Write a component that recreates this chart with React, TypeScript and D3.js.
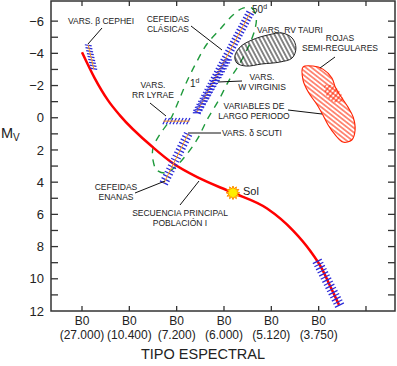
import React from "react";
import * as d3 from "d3";

const W = 397;
const H = 366;
const FONT = "Liberation Sans, Arial, sans-serif";

// spectral axis: tick index + labels (as printed on the figure)
const spectralTicks = [0, 1, 2, 3, 4, 5, 6];
const spectralClass = ["B0", "B0", "B0", "B0", "B0", "B0"];
const temperatures = ["(27.000)", "(10.400)", "(7.200)", "(6.000)", "(5.120)", "(3.750)"];
const mvTicks = d3.range(-6, 12);
const mvLabels = [-6, -4, -2, 0, 2, 4, 6, 8, 10, 12];

// [spectral index, Mv]
const mainSequence: [number, number][] = [
    [0.0, -4.07], [0.27, -2.45], [0.55, -1.08], [0.8, -0.15],
    [1.5, 1.84], [1.92, 2.83], [2.49, 3.77], [3.17, 4.64], [3.91, 5.64],
    [4.46, 7.01], [4.82, 8.26], [5.07, 9.38], [5.26, 10.56], [5.43, 11.62]
];
const sun: [number, number] = [3.19, 4.66];

const instabilityStrip: [number, number][] = [
    [3.4, -6.81], [3.59, -6.81], [3.68, -6.25], [3.66, -5.57], [3.55, -4.64],
    [3.34, -3.4], [3.11, -2.34], [2.89, -1.1], [2.64, 0.14], [2.45, 1.26],
    [2.2, 2.32], [1.99, 3.0], [1.77, 3.43], [1.58, 3.25], [1.5, 2.63],
    [1.5, 1.88], [1.65, 1.01], [1.86, 0.14], [2.05, -1.1], [2.22, -2.28],
    [2.41, -3.4], [2.64, -4.58], [2.92, -5.51], [3.19, -6.38]
];

const rvTauri: [number, number][] = [
    [3.23, -3.83], [3.34, -4.39], [3.59, -4.83], [3.93, -5.14], [4.23, -5.26],
    [4.44, -4.95], [4.52, -4.33], [4.44, -3.71], [4.18, -3.46], [3.8, -3.34],
    [3.47, -3.21], [3.27, -3.4]
];

const redVariables: [number, number][] = [
    [4.67, -3.15], [4.88, -3.21], [5.09, -3.02], [5.28, -2.47], [5.35, -1.91],
    [5.45, -1.41], [5.62, -0.66], [5.73, -0.04], [5.77, 0.76], [5.7, 1.38],
    [5.51, 1.51], [5.35, 1.07], [5.2, 0.45], [5.09, -0.17], [4.97, -0.79],
    [4.78, -1.6], [4.67, -2.34]
];
const redOverlap: [number, number][] = [
    [5.13, -2.02], [5.36, -1.9], [5.52, -1.1], [5.35, -0.95], [5.15, -1.45]
];

// hatched bands: [start, end]
const betaCephei: [number, number][] = [[0.13, -4.52], [0.25, -3.02]];
const classicalCepheids: [number, number][] = [[2.43, -0.35], [3.55, -6.5]];
const wVirginis: [number, number][] = [[2.36, -0.3], [3.02, -3.6]];
const deltaScuti: [number, number][] = [[1.73, 4.06], [2.24, 1.02]];
const rrLyrae: [number, number][] = [[1.72, 0.21], [2.27, 0.21]];
const flareStars: [number, number][] = [[4.96, 8.85], [5.45, 11.7]];

const x = d3.scaleLinear([-0.655, 6.613], [51, 395]);
const y = d3.scaleLinear([-7.25, 12], [1, 311]);

const BLUE = "#2a2ad8";
const ORANGE = "#ff9a1a";

interface IBandProps {
    ends: [number, number][];
    spacing: number;
    len: number;
    angle?: number;   // fixed screen angle in degrees, otherwise perpendicular
    shift?: number;   // shift hatch centre along hatch direction
    axis?: boolean;
}

function Band({ ends, spacing, len, angle, shift = 0, axis = true }: IBandProps) {
    const ax = x(ends[0][0]), ay = y(ends[0][1]);
    const bx = x(ends[1][0]), by = y(ends[1][1]);
    const d = Math.hypot(bx - ax, by - ay);
    const ux = (bx - ax) / d, uy = (by - ay) / d;
    let hx = -uy, hy = ux;
    if (angle !== undefined) {
        hx = Math.cos(angle * Math.PI / 180);
        hy = -Math.sin(angle * Math.PI / 180);
    }
    const n = Math.floor(d / spacing);
    const hatches = d3.range(n + 1).map(i => {
        const t = (d - n * spacing) / 2 + i * spacing;
        const cx = ax + ux * t + hx * shift, cy = ay + uy * t + hy * shift;
        return <line key={i} x1={cx - hx * len / 2} y1={cy - hy * len / 2}
            x2={cx + hx * len / 2} y2={cy + hy * len / 2}
            stroke={BLUE} strokeWidth={1.25} />;
    });
    return <g>
        {hatches}
        {axis && <line x1={ax} y1={ay} x2={bx} y2={by} stroke={ORANGE} strokeWidth={1} />}
    </g>;
}

function Label({ lines, cx, cy, size = 8.5, anchor = "middle" }: { lines: string[]; cx: number; cy: number; size?: number; anchor?: string }) {
    return <text x={cx} y={cy} fontSize={size} fontFamily={FONT} fill="#222" textAnchor={anchor as any}>
        {lines.map((l, i) => <tspan key={i} x={cx} dy={i === 0 ? 0 : size * 1.12}>{l}</tspan>)}
    </text>;
}

export default function App() {
    const closedLine = d3.line<[number, number]>()
        .x(d => x(d[0])).y(d => y(d[1]))
        .curve(d3.curveCatmullRomClosed.alpha(0.5));
    const msLine = d3.line<[number, number]>()
        .x(d => x(d[0])).y(d => y(d[1]))
        .curve(d3.curveMonotoneX);

    const sx = x(sun[0]), sy = y(sun[1]);
    const starPts = d3.range(24).map(i => {
        const r = i % 2 === 0 ? 6.8 : 4.2;
        const a = i * Math.PI / 12;
        return [sx + r * Math.cos(a), sy + r * Math.sin(a)];
    });

    const left = x.range()[0], right = x.range()[1];
    const top = y.range()[0], bottom = y.range()[1];

    return <svg width={W} height={H} style={{ position: "absolute", left: 0, top: 0, background: "#fff" }}>
        <defs>
            <pattern id="redHatch" width={3.6} height={3.6} patternUnits="userSpaceOnUse" patternTransform="rotate(38)">
                <line x1={0} y1={1.8} x2={3.6} y2={1.8} stroke="#ff2200" strokeWidth={1} />
            </pattern>
            <pattern id="redCross" width={3.6} height={3.6} patternUnits="userSpaceOnUse" patternTransform="rotate(-50)">
                <line x1={0} y1={1.8} x2={3.6} y2={1.8} stroke="#ff2200" strokeWidth={1} />
            </pattern>
            <pattern id="blackHatch" width={3.8} height={3.8} patternUnits="userSpaceOnUse" patternTransform="rotate(62)">
                <line x1={0} y1={1.9} x2={3.8} y2={1.9} stroke="#111" strokeWidth={1} />
            </pattern>
        </defs>

        {/* frame */}
        <rect x={left} y={top} width={right - left} height={bottom - top} fill="none" stroke="#333" strokeWidth={1.5} />

        <g name="yTicks">
            {mvTicks.map(t => <g key={t}>
                <line x1={left} x2={left + 7} y1={y(t)} y2={y(t)} stroke="#333" strokeWidth={1.3} />
                <line x1={right - 7} x2={right} y1={y(t)} y2={y(t)} stroke="#333" strokeWidth={1.3} />
            </g>)}
            {mvLabels.map(t => <text key={t} x={44} y={y(t)} dy="0.36em" textAnchor="end"
                fontSize={13} fontFamily={FONT} fill="#222">{t < 0 ? "\u2212" + Math.abs(t) : t}</text>)}
        </g>
        <g name="xTicks">
            {spectralTicks.map(t => <g key={t}>
                <line x1={x(t)} x2={x(t)} y1={top} y2={top + 5} stroke="#333" strokeWidth={1.3} />
                <line x1={x(t)} x2={x(t)} y1={bottom} y2={bottom - 5} stroke="#333" strokeWidth={1.3} />
            </g>)}
            {spectralClass.map((c, i) => <text key={"c" + i} x={x(spectralTicks[i])} y={325} textAnchor="middle"
                fontSize={12} fontFamily={FONT} fill="#222">{c}</text>)}
            {temperatures.map((c, i) => <text key={"t" + i} x={x(spectralTicks[i])} y={339} textAnchor="middle"
                fontSize={12} fontFamily={FONT} fill="#222">{c}</text>)}
        </g>
        <text x={203} y={359} textAnchor="middle" fontSize={14.5} fontFamily={FONT} fill="#222">TIPO ESPECTRAL</text>
        <text x={1} y={138} fontSize={14.5} fontFamily={FONT} fill="#222">M<tspan fontSize={10} dy={3}>V</tspan></text>

        {/* instability strip */}
        <path d={closedLine(instabilityStrip)!} fill="none" stroke="#1f9a3c" strokeWidth={1.4} strokeDasharray="7 6" />

        {/* RV Tauri and red variables */}
        <path d={closedLine(rvTauri)!} fill="url(#blackHatch)" stroke="#222" strokeWidth={1} />
        <path d={closedLine(redVariables)!} fill="url(#redHatch)" stroke="#ff2200" strokeWidth={1.1} />
        <path d={closedLine(redOverlap)!} fill="url(#redCross)" stroke="none" />

        {/* main sequence */}
        <path d={msLine(mainSequence)!} fill="none" stroke="#ff0000" strokeWidth={2.5} />

        {/* hatched variable bands */}
        <Band ends={betaCephei} spacing={3} len={7} angle={-10} />
        <Band ends={classicalCepheids} spacing={3.4} len={8.5} />
        <Band ends={wVirginis} spacing={3.4} len={8} angle={0} shift={3} axis={false} />
        <Band ends={deltaScuti} spacing={3.6} len={9} />
        <Band ends={rrLyrae} spacing={3.4} len={7} angle={62} />
        <Band ends={flareStars} spacing={3.5} len={10} axis={false} />

        {/* sun */}
        <polygon points={starPts.map(p => p.join(",")).join(" ")} fill="#ffee00" stroke="#ff8a00" strokeWidth={1} />
        <text x={243} y={195} fontSize={11} fontFamily={FONT} fill="#222">Sol</text>

        {/* period marks */}
        <text x={190} y={87} fontSize={10} fontFamily={FONT} fill="#222">1<tspan fontSize={7} dy={-4}>d</tspan></text>
        <text x={252} y={13} fontSize={10} fontFamily={FONT} fill="#222">50<tspan fontSize={7} dy={-4}>d</tspan></text>

        {/* leaders */}
        <g stroke="#111" strokeWidth={1}>
            <line x1={88} y1={44} x2={102} y2={28} />
            <line x1={191} y1={26} x2={222} y2={50} />
            <line x1={150} y1={103} x2={166} y2={116} />
            <line x1={218} y1={82} x2={242} y2={81} />
            <line x1={335} y1={57} x2={320} y2={68} />
            <line x1={288} y1={110} x2={322} y2={114} />
            <line x1={188} y1={133} x2={221} y2={133} />
            <line x1={135} y1={193} x2={165} y2={181} />
            <line x1={180} y1={205} x2={199} y2={181} />
        </g>

        <Label lines={["VARS. \u03b2 CEPHEI"]} cx={101} cy={24} />
        <Label lines={["CEFEIDAS", "CL\u00c1SICAS"]} cx={168} cy={22} />
        <Label lines={["VARS. RV TAURI"]} cx={290} cy={33} />
        <Label lines={["ROJAS", "SEMI-REGULARES"]} cx={340} cy={41} />
        <Label lines={["VARS.", "W VIRGINIS"]} cx={262} cy={80} />
        <Label lines={["VARS.", "RR LYRAE"]} cx={153} cy={88} />
        <Label lines={["VARIABLES DE", "LARGO PERIODO"]} cx={254} cy={109} />
        <Label lines={["VARS. \u03b4 SCUTI"]} cx={222} cy={136} anchor="start" />
        <Label lines={["CEFEIDAS", "ENANAS"]} cx={116} cy={190} />
        <Label lines={["SECUENCIA PRINCIPAL", "POBLACI\u00d3N I"]} cx={180} cy={216} />
    </svg>;
}
